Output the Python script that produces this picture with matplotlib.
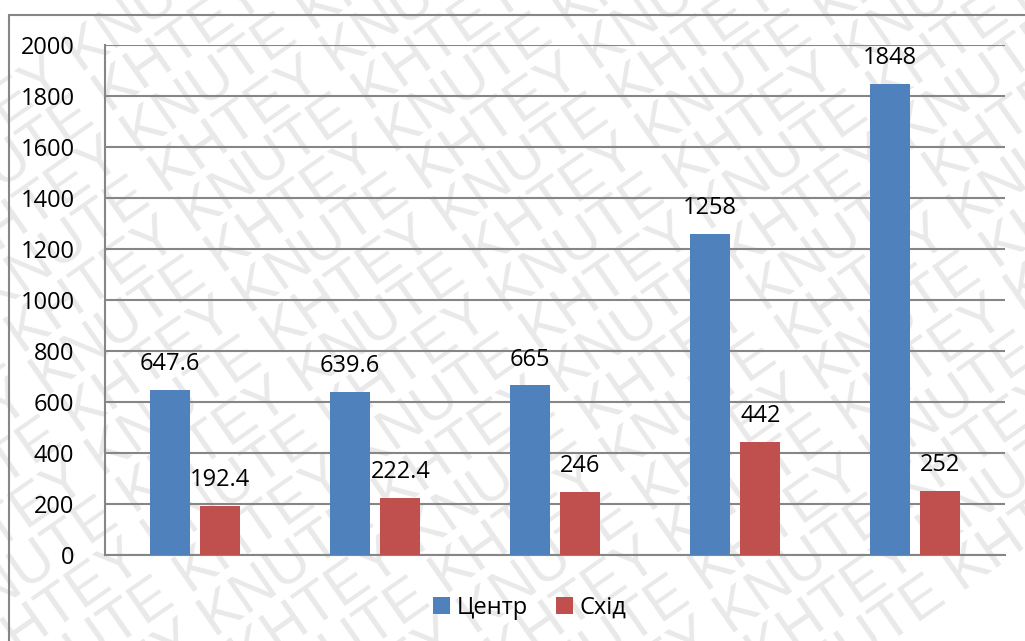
import numpy as np
import matplotlib
matplotlib.use('Agg')
import matplotlib.pyplot as plt
from matplotlib.patches import Rectangle

plt.rcParams['font.family'] = ['Open Sans', 'DejaVu Sans']

# data
groups = ['1', '2', '3', '4', '5']
centr = [647.6, 639.6, 665, 1258, 1848]
skhid = [192.4, 222.4, 246, 442, 252]
series_names = ['Центр', 'Схід']
yticks = [0, 200, 400, 600, 800, 1000, 1200, 1400, 1600, 1800, 2000]

blue = '#4F81BD'
red = '#C0504D'
grid_col = '#868686'

fig = plt.figure(figsize=(10.25, 6.41), dpi=100)

# background watermark layer
bg = fig.add_axes([0, 0, 1, 1], zorder=-5)
bg.set_xlim(0, 1)
bg.set_ylim(0, 1)
bg.axis('off')
lines = []
for i in range(20):
    word = 'KNUTE KHTEY ' if i % 2 == 0 else 'KHTEY KNUTE '
    lines.append(word * 7)
bg.text(0.5, 0.5, '\n'.join(lines), fontsize=42, color='#e9e9e9',
        rotation=35, rotation_mode='anchor', ha='center', va='center',
        linespacing=0.88, clip_on=True, family=['Liberation Sans', 'DejaVu Sans'])

# outer border
fig.patches.append(Rectangle((9 / 1025, -0.01), 1.1, 1 - 15 / 641 + 0.01,
                             transform=fig.transFigure, fill=False,
                             edgecolor=grid_col, linewidth=1.5, zorder=1))

ax = fig.add_axes([105 / 1025, 1 - 555 / 641, 900 / 1025, 510 / 641])
ax.patch.set_alpha(0)

x = np.arange(len(groups))
w = 0.222
gap = 0.06
b1 = ax.bar(x - (w + gap) / 2, centr, w, color=blue, label=series_names[0], zorder=3)
b2 = ax.bar(x + (w + gap) / 2, skhid, w, color=red, label=series_names[1], zorder=3)

for bars, vals in [(b1, centr), (b2, skhid)]:
    for b, v in zip(bars, vals):
        ax.annotate(f'{v:g}', (b.get_x() + b.get_width() / 2, v),
                    xytext=(0, 10), textcoords='offset points',
                    ha='center', va='bottom', fontsize=17)

ax.set_xlim(-0.5, len(groups) - 0.5)
ax.set_ylim(0, 2000)
ax.set_yticks(yticks)
ax.tick_params(axis='y', length=0, labelsize=17, pad=22)
ax.set_xticks([])
ax.yaxis.grid(True, color=grid_col, linewidth=1.5, zorder=0)
ax.set_axisbelow(True)
for s in ['top', 'right']:
    ax.spines[s].set_visible(False)
for s in ['left', 'bottom']:
    ax.spines[s].set_color(grid_col)
    ax.spines[s].set_linewidth(1.5)

fig.legend(handles=[b1, b2], labels=series_names, loc='center',
           bbox_to_anchor=(530 / 1025, 1 - 608 / 641), ncol=2, frameon=False,
           fontsize=17, handlelength=0.7, handleheight=0.7, handletextpad=0.3,
           columnspacing=1.2)

fig.savefig('out.png', dpi=100)
